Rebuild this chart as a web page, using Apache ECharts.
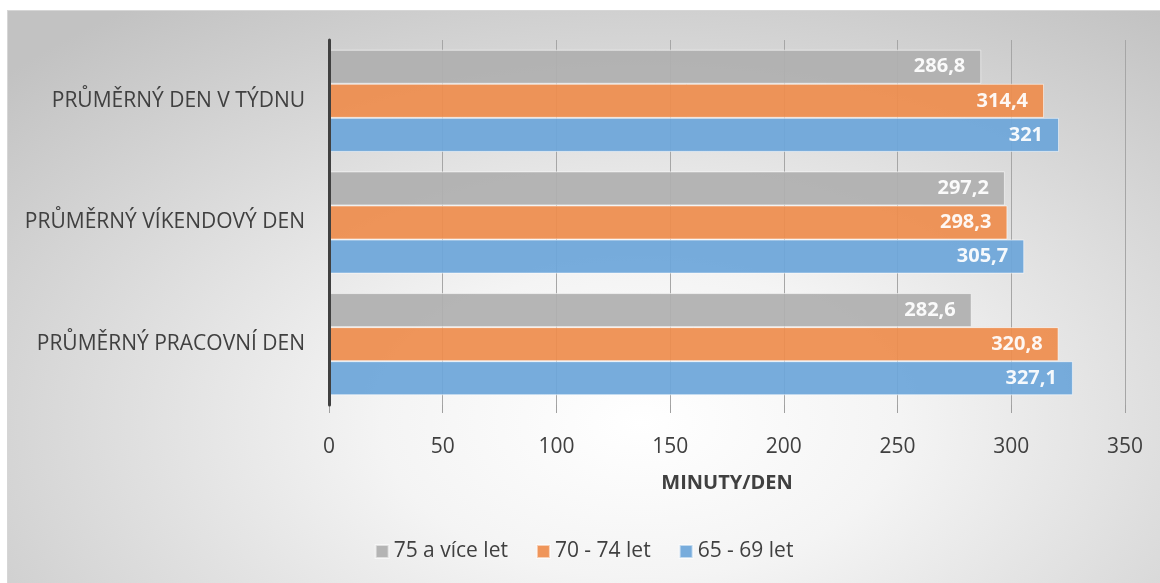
<!DOCTYPE html>
<html>
<head>
<meta charset="utf-8">
<script src="https://cdn.jsdelivr.net/npm/echarts@6/dist/echarts.min.js"></script>
<style>
html,body{margin:0;padding:0;background:#fff;}
#chart{position:absolute;left:7px;top:10px;width:1152px;height:572px;border:1px solid #d6d6d6;
 background:radial-gradient(ellipse 75% 90% at 55% 72%, #ffffff 0%, #f4f4f4 30%, #c2c2c2 100%);}
</style>
</head>
<body>
<div id="chart"></div>
<script>
// kategorie shora dolu
var categories=['PRŮMĚRNÝ DEN V TÝDNU','PRŮMĚRNÝ VÍKENDOVÝ DEN','PRŮMĚRNÝ PRACOVNÍ DEN'];
var seriesNames=['75 a více let','70 - 74 let','65 - 69 let'];
var vals75=[286.8,297.2,282.6];
var vals70=[314.4,298.3,320.8];
var vals65=[321,305.7,327.1];
var colors=['#afafaf','#ee8d4d','#6da6d9'];
var xTicks=[0,350,50];

var font='Open Sans';
var myChart=echarts.init(document.getElementById('chart'));

var mkSeries=function(name,data,color){
  return {
    name:name,type:'bar',data:data,barGap:'0%',barCategoryGap:'16%',
    itemStyle:{color:color,opacity:0.93,borderColor:'rgba(255,255,255,0.6)',borderWidth:1},
    label:{show:true,position:'insideRight',distance:16,color:'#fff',fontFamily:font,fontWeight:'bold',fontSize:20,
      formatter:function(p){return String(p.value).replace('.',',');}}
  };
};

var option={
  backgroundColor:'transparent',
  animation:false,
  grid:{left:321,right:35,top:29,bottom:178},
  legend:{bottom:16,left:'center',itemWidth:13,itemHeight:13,itemGap:28,icon:'rect',
    textStyle:{fontFamily:font,fontSize:21,color:'#404040'},data:seriesNames},
  xAxis:{type:'value',min:xTicks[0],max:xTicks[1],interval:xTicks[2],
    name:'MINUTY/DEN',nameLocation:'middle',nameGap:68,
    nameTextStyle:{fontFamily:font,fontSize:20,fontWeight:'bold',color:'#404040'},
    axisLine:{show:false},
    axisTick:{show:true,length:8,lineStyle:{color:'#a0a0a0'}},
    axisLabel:{margin:32,fontFamily:font,fontSize:21,color:'#404040'},
    splitLine:{show:true,lineStyle:{color:'#a6a6a6',width:1}}},
  yAxis:{type:'category',inverse:true,data:categories,z:5,
    axisLine:{show:true,lineStyle:{color:'#404040',width:3}},
    axisTick:{show:false},
    axisLabel:{margin:24,fontFamily:font,fontSize:21,color:'#404040'}},
  series:[mkSeries(seriesNames[0],vals75,colors[0]),mkSeries(seriesNames[1],vals70,colors[1]),mkSeries(seriesNames[2],vals65,colors[2])]
};
myChart.setOption(option);
</script>
</body>
</html>
